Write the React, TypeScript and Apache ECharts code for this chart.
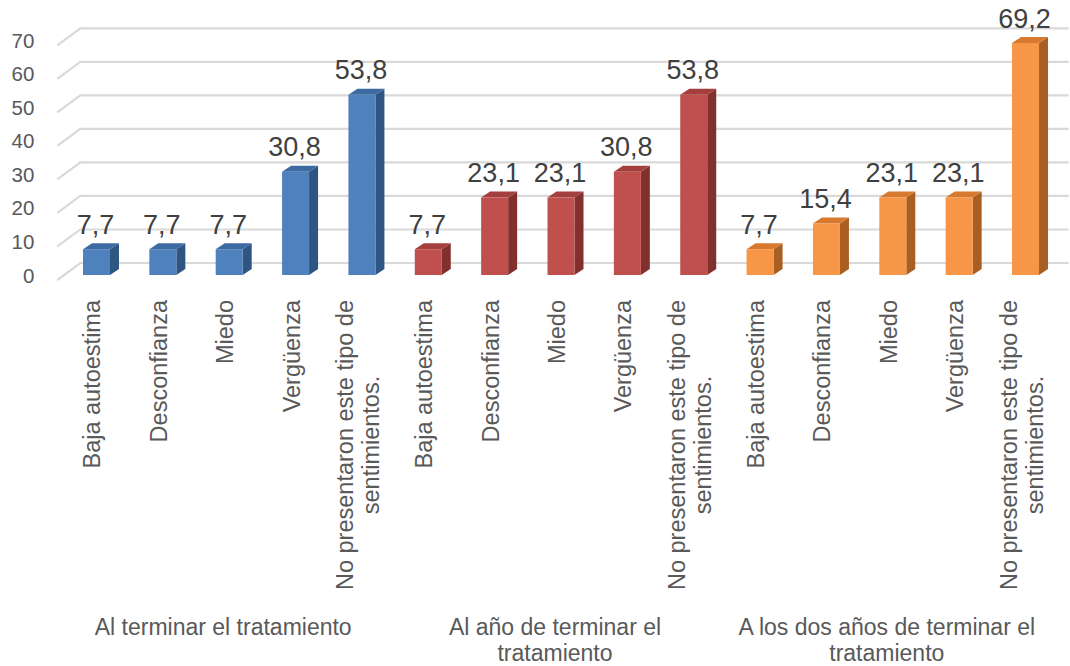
import React, { useEffect, useRef } from "react";
import * as echarts from "echarts";

const categories = [
  "Baja autoestima",
  "Desconfianza",
  "Miedo",
  "Vergüenza",
  "No presentaron este tipo de\nsentimientos.",
];
const groups = [
  "Al terminar el tratamiento",
  "Al año de terminar el\ntratamiento",
  "A los dos años de terminar el\ntratamiento",
];
const valuesAlTerminar = [7.7, 7.7, 7.7, 30.8, 53.8];
const valuesAlAnio = [7.7, 23.1, 23.1, 30.8, 53.8];
const valuesDosAnios = [7.7, 15.4, 23.1, 23.1, 69.2];
const yTicks = [0, 10, 20, 30, 40, 50, 60, 70];

const FONT = "'Liberation Sans', Arial, sans-serif";
const palette = [
  { front: "#4F81BD", top: "#3D6AA2", side: "#2F5582" },
  { front: "#C0504D", top: "#A33F3C", side: "#82302E" },
  { front: "#F79646", top: "#D7792E", side: "#A95F22" },
];

const fmt = (v: number) => v.toFixed(1).replace(".", ",");

export default function App() {
  const ref = useRef<HTMLDivElement>(null);
  useEffect(() => {
    document.body.style.margin = "0";
    if (!ref.current) return;
    const chart = echarts.init(ref.current, undefined, { renderer: "svg" });
    const allSeries = [valuesAlTerminar, valuesAlAnio, valuesDosAnios];
    const xLabels: string[] = [];
    const barData: number[][] = [];
    allSeries.forEach((vals, g) => {
      vals.forEach((v, j) => {
        xLabels.push(categories[j]);
        barData.push([g * categories.length + j, v, g]);
      });
    });

    chart.setOption({
      animation: false,
      grid: { left: 63.3, right: 11.3, top: 40.4, bottom: 389 },
      xAxis: [
        {
          type: "category",
          data: xLabels,
          position: "bottom",
          axisLine: { show: false },
          axisTick: { show: false },
          axisLabel: {
            interval: 0,
            rotate: 90,
            margin: 25,
            color: "#595959",
            fontSize: 23.5,
            fontFamily: FONT,
            padding: [0, 0, 8, 0],
            formatter: (val: string) =>
              val
                .split("\n")
                .map((s) => `{a|${s}}`)
                .join("\n"),
            rich: {
              a: { align: "center", fontSize: 23.5, fontFamily: FONT, color: "#595959", lineHeight: 26 },
            },
          },
        },
        {
          type: "category",
          data: groups,
          position: "bottom",
          offset: 0,
          axisLine: { show: false },
          axisTick: { show: false },
          axisLabel: {
            interval: 0,
            margin: 339,
            color: "#595959",
            fontSize: 23,
            lineHeight: 26,
            fontFamily: FONT,
            padding: [0, 12, 0, 0],
          },
        },
      ],
      yAxis: {
        type: "value",
        min: 0,
        max: 70,
        interval: 10,
        axisLine: { show: false },
        axisTick: { show: false },
        splitLine: { show: false },
        axisLabel: {
          margin: 29,
          color: "#595959",
          fontSize: 20.5,
          fontFamily: FONT,
          padding: [14, 0, 0, 0],
        },
      },
      series: [
        {
          type: "custom",
          z: 1,
          silent: true,
          data: yTicks.map((v) => [0, v]),
          renderItem: (params: any, api: any) => {
            const y = api.coord([0, api.value(1)])[1];
            const cs = params.coordSys;
            return {
              type: "polyline",
              shape: {
                points: [
                  [cs.x - 6, y + 5],
                  [cs.x + 17, y - 12],
                  [cs.x + cs.width + 10, y - 12],
                ],
              },
              style: { stroke: "#D9D9D9", lineWidth: 2.2, fill: "none" },
            };
          },
        },
        {
          type: "custom",
          z: 2,
          data: barData,
          renderItem: (params: any, api: any) => {
            const i = api.value(0);
            const v = api.value(1);
            const g = api.value(2);
            const top = api.coord([i, v]);
            const base = api.coord([i, 0]);
            const cx = top[0];
            const fw = 27;
            const dx = 9;
            const dy = 6;
            const l = cx - fw / 2;
            const r = cx + fw / 2;
            const t = top[1];
            const b = base[1];
            const c = palette[g];
            return {
              type: "group",
              children: [
                {
                  type: "polygon",
                  shape: { points: [[r, b], [r, t], [r + dx, t - dy], [r + dx, b - dy]] },
                  style: { fill: c.side },
                },
                {
                  type: "polygon",
                  shape: { points: [[l, t], [r, t], [r + dx, t - dy], [l + dx, t - dy]] },
                  style: { fill: c.top },
                },
                {
                  type: "rect",
                  shape: { x: l, y: t, width: fw, height: b - t },
                  style: { fill: c.front },
                },
                {
                  type: "text",
                  style: {
                    text: fmt(v),
                    x: cx - 1,
                    y: t - 11,
                    align: "center",
                    verticalAlign: "bottom",
                    fontSize: 27,
                    fontFamily: FONT,
                    fill: "#404040",
                  },
                },
              ],
            };
          },
        },
      ],
    });
    return () => chart.dispose();
  }, []);
  return <div ref={ref} style={{ width: 1070, height: 666 }} />;
}
